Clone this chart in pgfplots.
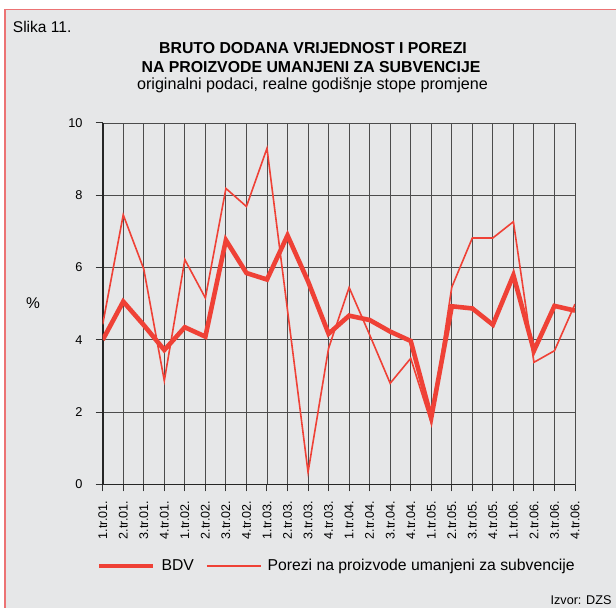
\documentclass[border=0pt]{standalone}
\usepackage{fontspec}
\setmainfont{Liberation Sans}
\usepackage{pgfplots}
\pgfplotsset{compat=1.18}
\definecolor{bg}{HTML}{E6E7E8}
\definecolor{ln}{HTML}{EF4136}
\definecolor{frm}{HTML}{EC7374}
\begin{document}
\begin{tikzpicture}
\useasboundingbox (0,0) rectangle (616bp,608bp);
\fill[white] (0,0) rectangle (616bp,608bp);
\fill[bg] (5bp,0) rectangle (616bp,598.5bp);
\draw[frm, line width=1.2bp] (5bp,0) -- (5bp,598.5bp) -- (616bp,598.5bp);
\node[anchor=base west, inner sep=0pt, font=\fontsize{15.6}{18}\selectfont] at (12.7bp,575.3bp) {Slika 11.};
\node[anchor=base, inner sep=0pt, font=\bfseries\fontsize{15.9}{18}\selectfont] at (313bp,554.7bp) {BRUTO DODANA VRIJEDNOST I POREZI};
\node[anchor=base, inner sep=0pt, font=\bfseries\fontsize{15.9}{18}\selectfont] at (311bp,535.7bp) {NA PROIZVODE UMANJENI ZA SUBVENCIJE};
\node[anchor=base, inner sep=0pt, font=\fontsize{16.2}{18}\selectfont] at (312.5bp,518bp) {originalni podaci, realne godišnje stope promjene};
\node[inner sep=0pt, font=\fontsize{15.6}{18}\selectfont] at (33bp,305bp) {\%};
\node[anchor=base east, inner sep=0pt, font=\fontsize{12.7}{14}\selectfont] at (611.7bp,3.7bp) {Izvor: DZS};
\begin{axis}[
  at={(102.7bp,123.5bp)}, anchor=south west, scale only axis,
  width=472.3bp, height=361.5bp,
  xmin=0, xmax=23, ymin=0, ymax=10,
  clip mode=individual,
  xtick={0,...,23},
  xticklabels={1.tr.01.,2.tr.01.,3.tr.01.,4.tr.01.,1.tr.02.,2.tr.02.,3.tr.02.,4.tr.02.,1.tr.03.,2.tr.03.,3.tr.03.,4.tr.03.,1.tr.04.,2.tr.04.,3.tr.04.,4.tr.04.,1.tr.05.,2.tr.05.,3.tr.05.,4.tr.05.,1.tr.06.,2.tr.06.,3.tr.06.,4.tr.06.},
  ytick={0,2,...,10},
  yticklabels={},
  axis lines=left,
  axis line style={-, line width=1.7bp, black!85},
  tick align=outside, major tick length=7bp,
  tick style={black!80, line width=1bp},
  grid=major, grid style={black!70, line width=0.9bp},
  xticklabel style={rotate=90, anchor=east, xshift=-6bp, font=\fontsize{12.6}{14}\selectfont},
  legend columns=2,
  legend style={at={(-0.0125,-0.2254)}, anchor=west, draw=none, fill=none,
    font=\fontsize{15.8}{18}\selectfont, inner sep=0pt,
    nodes={inner sep=0pt},
    /tikz/every odd column/.append style={column sep=6bp},
    /tikz/every even column/.append style={column sep=12bp}},
  legend image code/.code={\draw[#1] (0bp,0bp) -- (54bp,0bp);},
]
\addplot[ln, line width=4.6bp, line join=miter] coordinates {
(0,4.00) (1,5.06) (2,4.41) (3,3.72) (4,4.35) (5,4.09) (6,6.76) (7,5.85)
(8,5.67) (9,6.89) (10,5.62) (11,4.17) (12,4.67) (13,4.55) (14,4.23) (15,3.97)
(16,1.85) (17,4.93) (18,4.87) (19,4.42) (20,5.79) (21,3.70) (22,4.94) (23,4.81)};
\addlegendentry{BDV}
\addplot[ln, line width=1.6bp] coordinates {
(0,4.43) (1,7.46) (2,5.96) (3,2.87) (4,6.22) (5,5.16) (6,8.19) (7,7.69)
(8,9.30) (9,4.82) (10,0.34) (11,3.77) (12,5.45) (13,4.14) (14,2.80) (15,3.49)
(16,1.70) (17,5.46) (18,6.82) (19,6.82) (20,7.27) (21,3.38) (22,3.70) (23,4.99)};
\addlegendentry{Porezi na proizvode umanjeni za subvencije}
\node[anchor=east, inner sep=0pt, font=\fontsize{12.8}{14}\selectfont] at ([xshift=-20bp]axis cs:0,0) {0};
\node[anchor=east, inner sep=0pt, font=\fontsize{12.8}{14}\selectfont] at ([xshift=-20bp]axis cs:0,2) {2};
\node[anchor=east, inner sep=0pt, font=\fontsize{12.8}{14}\selectfont] at ([xshift=-20bp]axis cs:0,4) {4};
\node[anchor=east, inner sep=0pt, font=\fontsize{12.8}{14}\selectfont] at ([xshift=-20bp]axis cs:0,6) {6};
\node[anchor=east, inner sep=0pt, font=\fontsize{12.8}{14}\selectfont] at ([xshift=-20bp]axis cs:0,8) {8};
\node[anchor=east, inner sep=0pt, font=\fontsize{12.8}{14}\selectfont] at ([xshift=-20bp]axis cs:0,10) {10};
\end{axis}
\end{tikzpicture}
\end{document}
